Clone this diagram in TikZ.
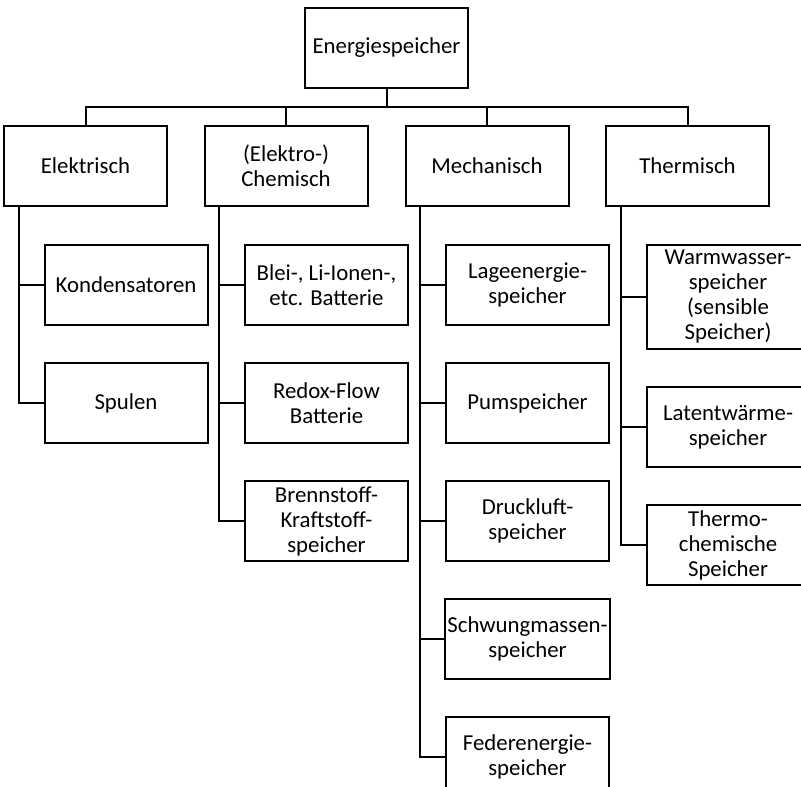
\documentclass[tikz,border=0pt]{standalone}
\usepackage{fontspec}
\setmainfont{Carlito}
\usetikzlibrary{positioning}
\tikzset{
  box/.style={
    rectangle, draw, line width=1pt,
    minimum width=81.5pt, minimum height=40pt,
    inner sep=1pt, align=center,
    font=\fontsize{11.4}{12.5}\selectfont
  },
  tallbox/.style={box, minimum height=52pt},
  link/.style={line width=1pt}
}

\begin{document}
\begin{tikzpicture}[node distance=18pt]
\useasboundingbox (0,0) rectangle (400.5pt,-393pt);

% Root
\node[box] (root) at (193.25pt,-24pt) {Energiespeicher};

% Main groups
\node[box, below left=18pt and 9pt of root.south] (chem) {(Elektro-)\\Chemisch};
\node[box, below right=18pt and 9pt of root.south] (mech) {Mechanisch};
\node[box, left=17.75pt of chem] (elek) {Elektrisch};
\node[box, right=17.75pt of mech] (therm) {Thermisch};

% Bus
\draw[link] (root.south) -- ++(0,-9pt) coordinate (bus);
\draw[link] (elek.north) |- (bus) -| (therm.north);
\draw[link] (chem.north) -- (chem.north |- bus);
\draw[link] (mech.north) -- (mech.north |- bus);

% Elektrisch
\node[box, below right=18.5pt and 20.25pt of elek.south west] (kond) {Kondensatoren};
\node[box, below=of kond] (spul) {Spulen};
\draw[link] ([xshift=7.75pt]elek.south west) |- (kond.west);
\draw[link] ([xshift=7.75pt]elek.south west) |- (spul.west);

% (Elektro-) Chemisch
\node[box, below right=18.5pt and 20.25pt of chem.south west] (blei) {Blei-, Li-Ionen-,\\etc. Batterie};
\node[box, below=of blei] (redox) {Redox-Flow\\Batterie};
\node[box, below=of redox] (brenn) {Brennstoff-\\Kraftstoff-\\speicher};
\draw[link] ([xshift=7.75pt]chem.south west) |- (blei.west);
\draw[link] ([xshift=7.75pt]chem.south west) |- (redox.west);
\draw[link] ([xshift=7.75pt]chem.south west) |- (brenn.west);

% Mechanisch
\node[box, below right=18.5pt and 20.25pt of mech.south west] (lage) {Lageenergie-\\speicher};
\node[box, below=of lage] (pump) {Pumspeicher};
\node[box, below=of pump] (druck) {Druckluft-\\speicher};
\node[box, below=of druck] (schwung) {Schwungmassen-\\speicher};
\node[box, below=of schwung] (feder) {Federenergie-\\speicher};
\draw[link] ([xshift=7.75pt]mech.south west) |- (lage.west);
\draw[link] ([xshift=7.75pt]mech.south west) |- (pump.west);
\draw[link] ([xshift=7.75pt]mech.south west) |- (druck.west);
\draw[link] ([xshift=7.75pt]mech.south west) |- (schwung.west);
\draw[link] ([xshift=7.75pt]mech.south west) |- (feder.west);

% Thermisch
\node[tallbox, below right=18.5pt and 20.25pt of therm.south west] (warm) {Warmwasser-\\speicher\\(sensible\\Speicher)};
\node[box, below=of warm] (latent) {Latentwärme-\\speicher};
\node[box, below=of latent] (thermo) {Thermo-\\chemische\\Speicher};
\draw[link] ([xshift=7.75pt]therm.south west) |- (warm.west);
\draw[link] ([xshift=7.75pt]therm.south west) |- (latent.west);
\draw[link] ([xshift=7.75pt]therm.south west) |- (thermo.west);

\end{tikzpicture}
\end{document}
